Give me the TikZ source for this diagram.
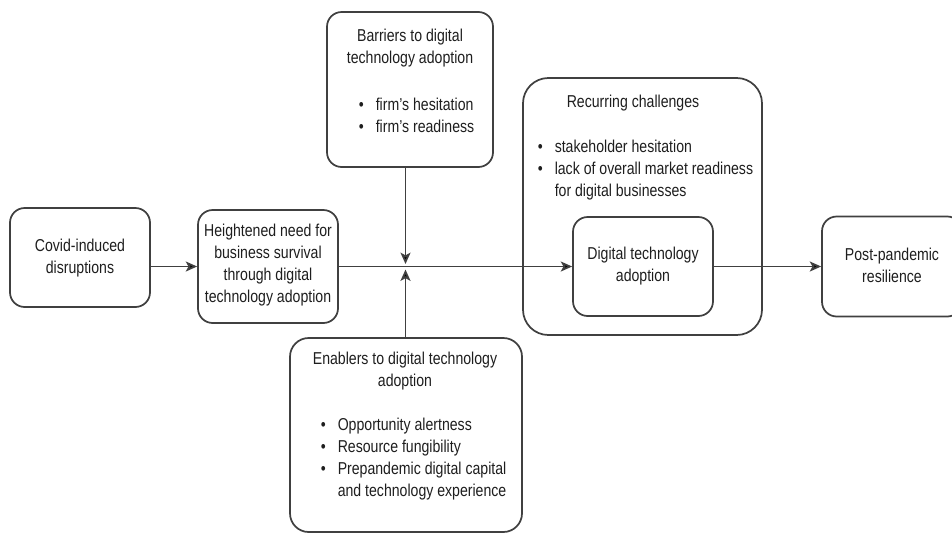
\documentclass[tikz,border=0pt]{standalone}
\usepackage{fontspec}
\setmainfont{Liberation Sans}[FakeStretch=0.82]
\usetikzlibrary{arrows.meta}
\definecolor{ln}{HTML}{404040}
\definecolor{tx}{HTML}{1E1E1E}
\newcommand\bul{\makebox[12.75pt][l]{\textbullet}}
\begin{document}
\begin{tikzpicture}[x=0.75pt,y=-0.75pt,
  box/.style={draw=ln, line width=1.3pt, rounded corners=11pt, inner sep=0pt, rectangle},
  txt/.style={text=tx, align=center, inner sep=0pt, font=\fontsize{12.9}{16.5}\selectfont},
  ltxt/.style={txt, align=left, anchor=west},
  arr/.style={draw=ln, line width=1.3pt, -{Stealth[length=8.5pt,width=7.5pt,inset=2pt,fill=black]}}]
\useasboundingbox (0,0) rectangle (952,533);
\clip (0,0) rectangle (952,533);
% boxes
\node[box, minimum width=105pt, minimum height=74.25pt] (covid) at (80,257.5) {};
\node[box, minimum width=105pt, minimum height=84.75pt] (heightened) at (268,266.5) {};
\node[box, minimum width=124.5pt, minimum height=116.25pt] (barriers) at (410,89.5) {};
\node[box, minimum width=174pt, minimum height=145.5pt, rounded corners=14pt] (enablers) at (406,435) {};
\node[box, minimum width=179.25pt, minimum height=192.75pt, rounded corners=19pt] (recurring) at (642.5,206.5) {};
\node[box, minimum width=105pt, minimum height=74.25pt] (digital) at (643,266.5) {};
\node[box, minimum width=105pt, minimum height=75pt] (post) at (892,266.5) {};
% texts
\node[txt] (tcovid) at (80,258) {Covid-induced\\disruptions};
\node[txt] (theight) at (268,265.5) {Heightened need for\\business survival\\through digital\\technology adoption};
\node[txt] (tbarT) at (410,48) {Barriers to digital\\technology adoption};
\node[ltxt] (tbarB) at (358.5,115.5) {\bul firm's hesitation\\\bul firm's readiness};
\node[txt] (tenaT) at (405,371.5) {Enablers to digital technology\\adoption};
\node[ltxt] (tenaB) at (320.5,459.5) {\bul Opportunity alertness\\\bul Resource fungibility\\\bul Prepandemic digital capital\\\hspace{12.75pt}and technology experience};
\node[txt] (trecT) at (633,103) {Recurring challenges};
\node[ltxt] (trecB) at (537.5,170.5) {\bul stakeholder hesitation\\\bul lack of overall market readiness\\\hspace{12.75pt}for digital businesses};
\node[txt] (tdig) at (643,266) {Digital technology\\adoption};
\node[txt] (tpost) at (892,265) {Post-pandemic\\resilience};
% connectors
\coordinate (jt) at (405.5,264);
\coordinate (jb) at (405.5,269.5);
\draw[arr] (covid.east |- heightened.west) -- (heightened.west);
\draw[arr] (heightened.east) -- (digital.west);
\draw[arr] (barriers.south -| jt) -- (jt);
\draw[arr] (enablers.north -| jb) -- (jb);
\draw[arr] (digital.east) -- (post.west);
\end{tikzpicture}
\end{document}
